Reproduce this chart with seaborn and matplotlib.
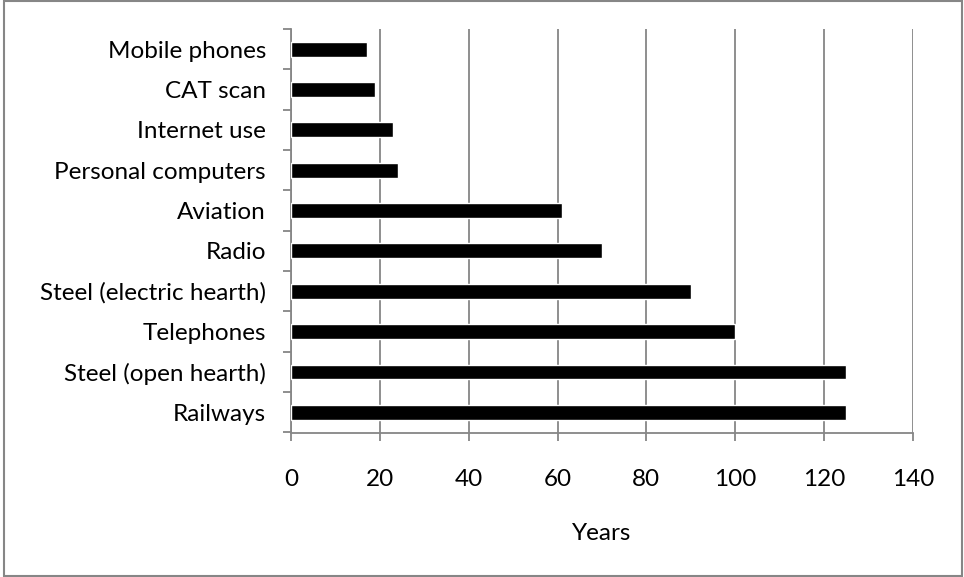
import matplotlib
matplotlib.use("Agg")
import matplotlib.pyplot as plt
from matplotlib.patches import Rectangle
from matplotlib.ticker import FixedLocator
import seaborn as sns
import pandas as pd

# Years taken for each technology to spread
technologies = [
    "Mobile phones",
    "CAT scan",
    "Internet use",
    "Personal computers",
    "Aviation",
    "Radio",
    "Steel (electric hearth)",
    "Telephones",
    "Steel (open hearth)",
    "Railways",
]
years = [17, 19, 23, 24, 61, 70, 90, 100, 125, 125]
x_ticks = [0, 20, 40, 60, 80, 100, 120, 140]

df = pd.DataFrame({"technology": technologies, "years": years})

sns.set_theme(style="white")
plt.rcParams["font.family"] = ["Lato", "DejaVu Sans"]

grid_color = "#868686"
font_size = 17.5

W, H = 964, 577
fig = plt.figure(figsize=(W / 100, H / 100), dpi=100)
ax = fig.add_axes([291 / W, 1 - 432.5 / H, (913 - 291) / W, (432.5 - 29) / H])

sns.barplot(data=df, x="years", y="technology", orient="h", color="black",
            saturation=1, width=0.37, ax=ax, zorder=3)

ax.set_xlim(0, 140)
ax.set_ylim(len(technologies) - 0.5, -0.5)
ax.set_xticks(x_ticks)
ax.set_xticklabels([str(t) for t in x_ticks])
ax.xaxis.grid(True, color=grid_color, linewidth=1.3, zorder=0)
ax.yaxis.grid(False)

# category separators as minor ticks on the category axis
ax.yaxis.set_minor_locator(FixedLocator([i - 0.5 for i in range(len(technologies) + 1)]))
ax.tick_params(axis="y", which="major", length=0, pad=18, labelsize=font_size, colors="black")
ax.tick_params(axis="y", which="minor", left=True, length=6, width=1.3, color=grid_color)
ax.tick_params(axis="x", which="major", bottom=True, length=6, width=1.3, color=grid_color,
               pad=20, labelsize=font_size, labelcolor="black")

for side in ["top", "right"]:
    ax.spines[side].set_visible(False)
for side in ["left", "bottom"]:
    ax.spines[side].set_color(grid_color)
    ax.spines[side].set_linewidth(1.3)

ax.set_ylabel("")
ax.set_xlabel("Years", fontsize=font_size, labelpad=24, color="black")

# chart frame
fig.patches.append(Rectangle((3.5 / W, 1 / H), 958 / W, 575 / H,
                             transform=fig.transFigure, fill=False,
                             edgecolor=grid_color, linewidth=1.5))

fig.savefig("out.png", dpi=100, facecolor="white")
